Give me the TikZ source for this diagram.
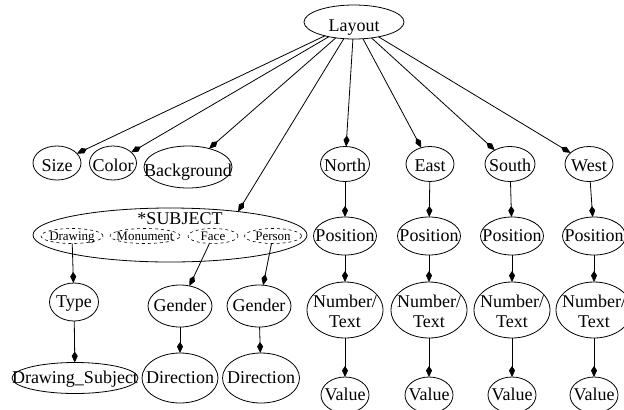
\documentclass[tikz,border=0pt]{standalone}
\usepackage{fontspec}
\setmainfont{Liberation Serif}
\usetikzlibrary{shapes.geometric,arrows.meta}
% text that takes no room, so the ellipse size is set by the style alone
\newcommand\lbl[2][0bp]{\makebox[0pt]{\raisebox{\dimexpr-0.33em-#1\relax}[0pt][0pt]{#2}}}
\newcommand\lbltwo[2]{\makebox[0pt]{\raisebox{-0.45em}[0pt][0pt]{\begin{tabular}{@{}c@{}}#1\\#2\end{tabular}}}}
\begin{document}
\begin{tikzpicture}[x=1bp,y=-1bp,
  every node/.style={ellipse,draw,line width=0.8bp,inner sep=0pt,outer sep=0pt,
    font=\fontsize{18bp}{20bp}\selectfont},
  nd/.style 2 args={minimum width=#1bp,minimum height=#2bp},
  sub/.style={dashed,line width=0.6bp,font=\fontsize{13bp}{14bp}\selectfont},
  edge/.style={line width=0.8bp,-{Kite[length=11bp,width=6bp,inset=4.5bp]}}]
\useasboundingbox (0,0) rectangle (624,409);

% root
\node[nd={100}{34}] (layout) at (354,22) {\lbl[4bp]{Layout}};

% first level
\node[nd={48}{34}] (size) at (57,163) {\lbl[3bp]{Size}};
\node[nd={47}{34}] (color) at (113,163) {\lbl[3bp]{Color}};
\node[nd={88}{42}] (bg) at (188,167) {\lbl[4bp]{Background}};
\node[nd={49}{35}] (north) at (345,164) {\lbl[2bp]{North}};
\node[nd={48}{35}] (east) at (430,164) {\lbl[2bp]{East}};
\node[nd={50}{35}] (south) at (510,164) {\lbl[2bp]{South}};
\node[nd={48}{35}] (west) at (589,164) {\lbl[2bp]{West}};

% subject cluster
\node[nd={274}{54}] (subj) at (170,235) {};
\node[draw=none,rectangle] (subjlbl) at (180,219) {*SUBJECT};
\node[sub,nd={62}{15}] (drawing) at (72,236) {\lbl{Drawing}};
\node[sub,nd={70}{15}] (monument) at (145,236) {\lbl{Monument}};
\node[sub,nd={50}{15}] (face) at (213,236) {\lbl{Face}};
\node[sub,nd={57}{15}] (person) at (273,236) {\lbl{Person}};

% subject branches
\node[nd={49}{38}] (type) at (74,302) {\lbl{Type}};
\node[nd={126}{31}] (dsub) at (75,378) {\lbl{Drawing\_Subject}};
\node[nd={64}{42}] (gender1) at (180,306) {\lbl{Gender}};
\node[nd={64}{42}] (gender2) at (259,306) {\lbl{Gender}};
\node[nd={76}{50}] (dir1) at (180,378) {\lbl{Direction}};
\node[nd={77}{50}] (dir2) at (261,378) {\lbl{Direction}};

% direction columns
\foreach \n/\x in {n/345,e/429,s/512,w/594}{
  \node[nd={63}{38}] (pos\n) at (\x,236) {\lbl{Position}};
  \node[nd={76}{56}] (num\n) at (\x,310) {\lbltwo{Number/}{Text}};
  \node[nd={48}{36}] (val\n) at (\x,395) {\lbl{Value}};
}

% edges from the root
\foreach \t in {size,color,bg,north,east,south,west}
  \draw[edge] (layout) -- (\t);
\draw[edge] (layout) -- (subj.19);

\draw[edge] (north) -- (posn);
\draw[edge] (east) -- (pose);
\draw[edge] (south) -- (poss);
\draw[edge] (west) -- (posw);
\foreach \n in {n,e,s,w}{
  \draw[edge] (pos\n) -- (num\n);
  \draw[edge] (num\n) -- (val\n);
}

\draw[edge] (drawing) -- (type);
\draw[edge] (type) -- (dsub);
\draw[edge] (face) -- (gender1);
\draw[edge] (person) -- (gender2);
\draw[edge] (gender1) -- (dir1);
\draw[edge] (gender2) -- (dir2);
\end{tikzpicture}
\end{document}
